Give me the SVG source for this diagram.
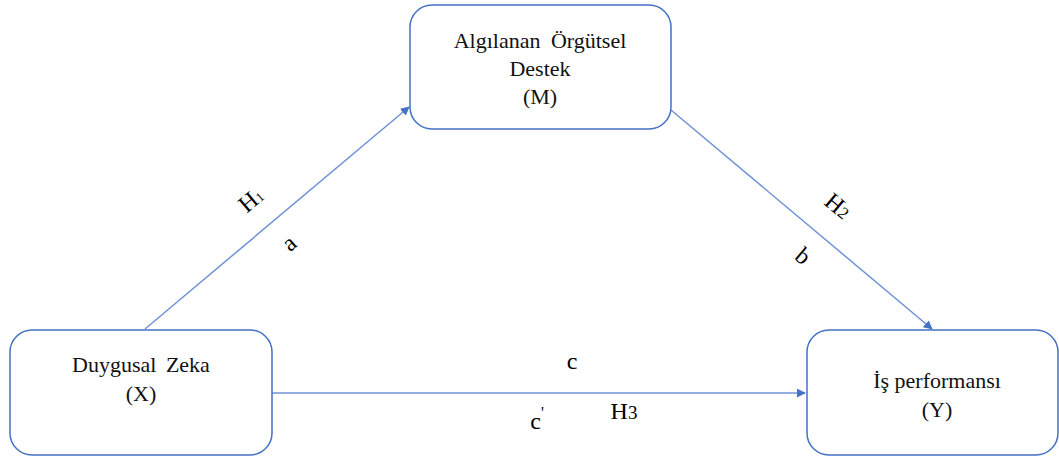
<svg xmlns="http://www.w3.org/2000/svg" width="1059" height="460" viewBox="0 0 1059 460">
<defs>
<marker id="arr" viewBox="0 0 10 10" refX="9" refY="5" markerWidth="9" markerHeight="9" markerUnits="userSpaceOnUse" orient="auto">
<path d="M0,0 L10,5 L0,10 z" fill="#4472C4"/>
</marker>
<style>
.box{fill:#fff;stroke:#4472C4;stroke-width:1.5}
.t{font-family:'Liberation Serif','DejaVu Serif',serif;font-size:22px;fill:#111;text-anchor:middle}
.l{font-family:'Liberation Serif','DejaVu Serif',serif;font-size:24px;fill:#000;text-anchor:middle}
.c{stroke:#6F93D6;stroke-width:1.5;fill:none;marker-end:url(#arr)}
</style>
</defs>
<rect width="1059" height="460" fill="#fff"/>
<g id="connectors">
<line class="c" x1="145" y1="329" x2="409" y2="107"/>
<line class="c" x1="671" y1="110" x2="932" y2="329"/>
<line class="c" x1="272" y1="393" x2="805" y2="393"/>
</g>
<g id="node-M">
<rect class="box" x="410" y="5" width="261" height="124" rx="22"/>
<text class="t" x="540" y="48" word-spacing="5">Algılanan Örgütsel</text>
<text class="t" x="540" y="76">Destek</text>
<text class="t" x="540" y="104">(M)</text>
</g>
<g id="node-X">
<rect class="box" x="10" y="330" width="262" height="125" rx="22"/>
<text class="t" x="141" y="372" word-spacing="4">Duygusal Zeka</text>
<text class="t" x="141" y="401">(X)</text>
</g>
<g id="node-Y">
<rect class="box" x="807" y="330" width="251" height="125" rx="22"/>
<text class="t" x="937" y="388">İş performansı</text>
<text class="t" x="937" y="417">(Y)</text>
</g>
<g id="labels">
<text class="l" transform="translate(256,206) rotate(-40)">H<tspan font-size="13">1</tspan></text>
<text class="l" transform="translate(294,249) rotate(-40)">a</text>
<text class="l" transform="translate(833,212) rotate(40)">H<tspan font-size="17">2</tspan></text>
<text class="l" transform="translate(798,262) rotate(40)">b</text>
<text class="l" x="572" y="369">c</text>
<text class="l" x="537" y="429">c<tspan font-size="16" dy="-11">'</tspan></text>
<text class="l" x="624" y="419">H<tspan font-size="19">3</tspan></text>
</g>
</svg>
